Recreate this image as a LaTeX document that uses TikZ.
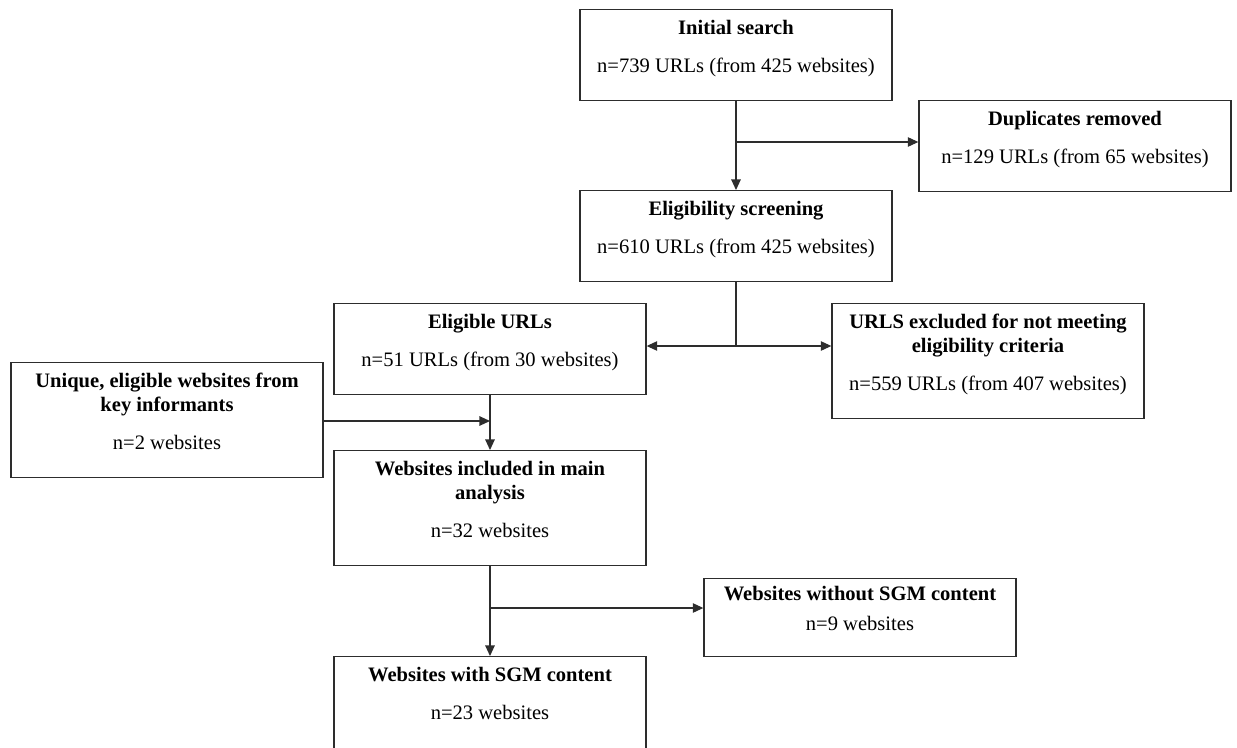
\documentclass[tikz,border=0pt]{standalone}
\usepackage{fontspec}
\setmainfont{Liberation Serif}
\usetikzlibrary{arrows.meta}
\definecolor{flowInk}{RGB}{45,45,45}
\tikzset{
  flowbox/.style={draw=flowInk,line width=0.8pt,rectangle,minimum width=6.24cm,inner xsep=4pt,inner ysep=6pt,text depth=9.9pt,align=center,anchor=north,text=black,font=\fontsize{11.7}{13.6}\selectfont},
  flowline/.style={draw=flowInk,line width=0.65pt},
  flowarrow/.style={-{Triangle[length=6pt,width=5.4pt]},draw=flowInk,line width=0.65pt},
}

\begin{document}
\begin{tikzpicture}[x=0.02cm,y=-0.02cm]
\useasboundingbox (0,0) rectangle (1237,747);
\clip (0,0) rectangle (1237,747);

% Search and duplicates.
\node[flowbox] (initial) at (736,9) {\textbf{Initial search}\\[8pt]n=739 URLs (from 425 websites)};
\node[flowbox] (dupl) at (1075,100) {\textbf{Duplicates removed}\\[8pt]n=129 URLs (from 65 websites)};
\node[flowbox] (screen) at (736,190) {\textbf{Eligibility screening}\\[8pt]n=610 URLs (from 425 websites)};
\coordinate (dupsplit) at (736,142);
\draw[flowarrow] (initial.south) -- (screen.north);
\draw[flowarrow] (dupsplit) -- (dupsplit -| dupl.west);

% Eligibility split.
\node[flowbox] (eligible) at (490,303) {\textbf{Eligible URLs}\\[8pt]n=51 URLs (from 30 websites)};
\node[flowbox] (excluded) at (988,303) {\textbf{URLS excluded for not meeting}\\\textbf{eligibility criteria}\\[8pt]n=559 URLs (from 407 websites)};
\coordinate (screensplit) at (736,346);
\draw[flowline] (screen.south) -- (screensplit);
\draw[flowarrow] (screensplit) -- (screensplit -| eligible.east);
\draw[flowarrow] (screensplit) -- (screensplit -| excluded.west);

% Key informants join the main analysis.
\node[flowbox] (informants) at (167,362) {\textbf{Unique, eligible websites from}\\\textbf{key informants}\\[8pt]n=2 websites};
\node[flowbox] (included) at (490,450) {\textbf{Websites included in main}\\\textbf{analysis}\\[8pt]n=32 websites};
\coordinate (merge) at (490,421);
\draw[flowarrow] (eligible.south) -- (eligible.south |- included.north);
\draw[flowarrow] (informants.east |- merge) -- (merge);

% SGM content.
\node[flowbox,inner ysep=4pt,text depth=10.5pt] (nosgm) at (860,578) {\textbf{Websites without SGM content}\\[4pt]n=9 websites};
\node[flowbox,text depth=14pt] (sgm) at (490,656) {\textbf{Websites with SGM content}\\[8pt]n=23 websites};
\coordinate (sgmsplit) at (490,608);
\draw[flowarrow] (included.south) -- (sgm.north);
\draw[flowarrow] (sgmsplit) -- (sgmsplit -| nosgm.west);
\end{tikzpicture}
\end{document}
